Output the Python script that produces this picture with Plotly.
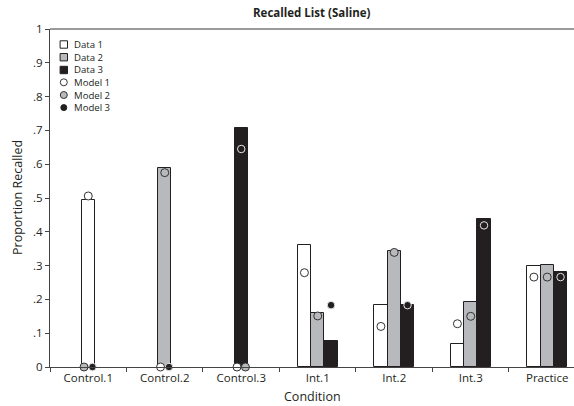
import plotly.graph_objects as go

# Recall proportions per condition: observed data (bars) and model fits (circles)
categories = ["Control.1", "Control.2", "Control.3", "Int.1", "Int.2", "Int.3", "Practice"]
data1 = [0.493, 0.0, 0.0, 0.360, 0.183, 0.068, 0.298]
data2 = [0.0, 0.590, 0.0, 0.161, 0.344, 0.191, 0.302]
data3 = [0.0, 0.0, 0.708, 0.078, 0.183, 0.437, 0.281]
model1 = [0.506, 0.0, 0.0, 0.279, 0.120, 0.128, 0.266]
model2 = [0.0, 0.575, 0.0, 0.151, 0.339, 0.150, 0.266]
model3 = [0.0, 0.0, 0.645, 0.183, 0.183, 0.419, 0.266]
y_ticks = [0, 0.1, 0.2, 0.3, 0.4, 0.5, 0.6, 0.7, 0.8, 0.9, 1.0]
y_tick_text = ["0", ".1", ".2", ".3", ".4", ".5", ".6", ".7", ".8", ".9", "1"]

W, H = 574, 406
ML, MR, MT, MB = 50, 0, 29, 39
PW, PH = W - ML - MR, H - MT - MB

FONT = "Open Sans, Noto Sans, sans-serif"
INK = "#231f20"
WHITE = "#ffffff"
GRAY = "#b8b9bc"
DARK = "#231f20"

BAR_W = 0.174
ZERO_SHIFT = 0.055

data_series = [data1, data2, data3]
model_series = [model1, model2, model3]
n = len(categories)

# Work out where each bar and model point sits within its category
bar_x = [[None] * n for _ in range(3)]
mod_x = [[None] * n for _ in range(3)]
for i in range(n):
    present = [s for s in range(3) if data_series[s][i] > 0]
    if len(present) == 1:
        only = present[0]
        bar_x[only][i] = i
        mod_x[only][i] = i
        others = [s for s in range(3) if s != only]
        mod_x[others[0]][i] = i - ZERO_SHIFT
        mod_x[others[1]][i] = i + ZERO_SHIFT
    else:
        for s in range(3):
            bar_x[s][i] = i + (s - 1) * BAR_W
            mod_x[s][i] = i + (s - 1) * BAR_W

fig = go.Figure()

bar_fills = [WHITE, GRAY, DARK]
for s in range(3):
    xs = [bar_x[s][i] for i in range(n) if data_series[s][i] > 0]
    ys = [data_series[s][i] for i in range(n) if data_series[s][i] > 0]
    fig.add_trace(go.Bar(
        x=xs, y=ys, width=BAR_W, name=f"Data {s + 1}",
        marker=dict(color=bar_fills[s], line=dict(color=INK, width=1)),
        showlegend=False,
    ))

mod_styles = [
    dict(color=WHITE, size=8, line=dict(color="#333333", width=1)),
    dict(color=GRAY, size=8, line=dict(color="#333333", width=1)),
    dict(color=DARK, size=7.5, line=dict(color="#e6e6e6", width=1)),
]
for s in range(3):
    fig.add_trace(go.Scatter(
        x=mod_x[s], y=model_series[s], mode="markers", name=f"Model {s + 1}",
        marker=dict(symbol="circle", **mod_styles[s]),
        cliponaxis=False, showlegend=False,
    ))


def px(xp):
    return (xp - ML) / PW


def py(yp):
    return (MT + PH - yp) / PH


shapes = []
annotations = []

# Light rule across the top of the plotting area
shapes.append(dict(type="line", xref="paper", yref="paper", x0=0, x1=1, y0=1, y1=1,
                   line=dict(color="#9a9a9a", width=2), layer="above"))

# Key in the upper-left corner
key_x, text_x = 63.8, 71.5
key_rows = [44.5, 57.2, 70.0, 82.3, 95.0, 107.6]
key_labels = ["Data 1", "Data 2", "Data 3", "Model 1", "Model 2", "Model 3"]
for k, (yc, lab) in enumerate(zip(key_rows, key_labels)):
    if k < 3:
        half = 3.7
        shapes.append(dict(type="rect", xref="paper", yref="paper",
                           x0=px(key_x - half), x1=px(key_x + half),
                           y0=py(yc + half), y1=py(yc - half),
                           fillcolor=bar_fills[k], line=dict(color=INK, width=1)))
    else:
        st = mod_styles[k - 3]
        r = 3.5 if k < 5 else 3.0
        shapes.append(dict(type="circle", xref="paper", yref="paper",
                           x0=px(key_x - r), x1=px(key_x + r),
                           y0=py(yc + r), y1=py(yc - r),
                           fillcolor=st["color"],
                           line=dict(color="#333333" if k < 5 else DARK, width=1)))
    annotations.append(dict(text=lab, xref="paper", yref="paper", x=px(text_x), y=py(yc),
                            xanchor="left", yanchor="middle", showarrow=False,
                            font=dict(family=FONT, size=9.6, color="#231f20")))

annotations.append(dict(text="Proportion Recalled", xref="paper", yref="paper",
                        x=px(17), y=0.5, textangle=-90, xanchor="center", yanchor="middle",
                        showarrow=False, font=dict(family=FONT, size=12.5, color="#231f20")))
annotations.append(dict(text="Condition", xref="paper", yref="paper",
                        x=0.5, y=py(396.5), xanchor="center", yanchor="middle",
                        showarrow=False, font=dict(family=FONT, size=12.5, color="#231f20")))
annotations.append(dict(text="<b>Recalled List (Saline)</b>", xref="paper", yref="paper",
                        x=0.5, y=py(12.5), xanchor="center", yanchor="middle",
                        showarrow=False, font=dict(family=FONT, size=11.5, color="#231f20")))

fig.update_layout(
    width=W, height=H,
    margin=dict(l=ML, r=MR, t=MT, b=MB, pad=0),
    paper_bgcolor="white", plot_bgcolor="white",
    barmode="overlay", bargap=0,
    shapes=shapes, annotations=annotations,
    font=dict(family=FONT, size=11.5, color="#231f20"),
    xaxis=dict(
        range=[-0.5, 6.35], tickmode="array", tickvals=list(range(n)), ticktext=categories,
        ticks="", showgrid=False, zeroline=False,
        showline=True, linecolor="#444444", linewidth=1,
        minor=dict(tickmode="linear", tick0=0.5, dtick=1, ticks="outside",
                   ticklen=4, tickcolor="#444444", showgrid=False),
        tickfont=dict(family=FONT, size=11.5, color="#231f20"),
        fixedrange=True,
    ),
    yaxis=dict(
        range=[0, 1], tickmode="array", tickvals=y_ticks, ticktext=y_tick_text,
        ticks="outside", ticklen=4, tickcolor="#444444",
        showgrid=False, zeroline=False,
        showline=True, linecolor="#444444", linewidth=1,
        tickfont=dict(family=FONT, size=11.5, color="#231f20"),
        fixedrange=True,
    ),
)

fig.write_html("out.html")
